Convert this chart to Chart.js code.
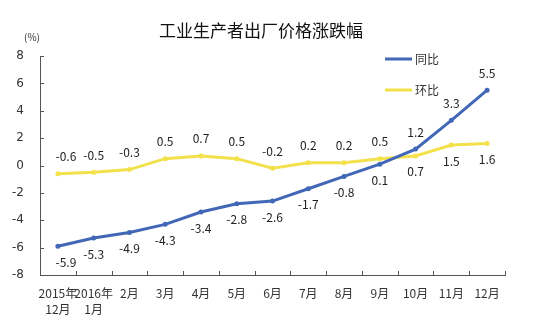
<!DOCTYPE html>
<html lang="zh-CN">
<head>
  <meta charset="UTF-8">
  <title>工业生产者出厂价格涨跌幅</title>
  <script src="https://cdn.jsdelivr.net/npm/chart.js"></script>
  <style>
    html, body { margin: 0; padding: 0; background: #fff; }
    #wrap { width: 534px; height: 329px; }
  </style>
</head>
<body>
  <div id="wrap"><canvas id="ppiChart" width="534" height="329"></canvas></div>

  <script>
    const months = [["2015年", "12月"], ["2016年", "1月"], "2月", "3月", "4月", "5月", "6月", "7月", "8月", "9月", "10月", "11月", "12月"];
    const yoy = [-5.9, -5.3, -4.9, -4.3, -3.4, -2.8, -2.6, -1.7, -0.8, 0.1, 1.2, 3.3, 5.5];
    const mom = [-0.6, -0.5, -0.3, 0.5, 0.7, 0.5, -0.2, 0.2, 0.2, 0.5, 0.7, 1.5, 1.6];
    // label above (true) / below (false) the point
    const yoyAbove = [false, false, false, false, false, false, false, false, false, false, true, true, true];
    const momAbove = [true, true, true, true, true, true, true, true, true, true, false, false, false];

    const BLUE = "#4267b6";
    const YELLOW = "#f3e14c";
    const CJK = '"Noto Sans CJK SC", sans-serif';

    // title, unit, legend, point labels, inward tick marks
    const extras = {
      id: "extras",
      afterDatasetsDraw(chart) {
        const ctx = chart.ctx;
        const area = chart.chartArea;
        const xs = chart.scales.x, ys = chart.scales.y;
        ctx.save();

        // tick marks pointing inside
        ctx.strokeStyle = "#555";
        ctx.lineWidth = 1;
        ys.ticks.forEach(t => {
          const y = Math.round(ys.getPixelForValue(t.value)) + 0.5;
          ctx.beginPath(); ctx.moveTo(area.left, y); ctx.lineTo(area.left + 4, y); ctx.stroke();
        });
        for (let i = 0; i < months.length; i++) {
          const x = i < months.length - 1
            ? (xs.getPixelForValue(i) + xs.getPixelForValue(i + 1)) / 2
            : area.right;
          const px = Math.round(x) + 0.5;
          ctx.beginPath(); ctx.moveTo(px, area.bottom); ctx.lineTo(px, area.bottom - 4); ctx.stroke();
        }

        // data labels
        ctx.font = '12px ' + CJK;
        ctx.fillStyle = "#222";
        ctx.textAlign = "center";
        ctx.textBaseline = "middle";
        const drawLabels = (idx, values, above) => {
          chart.getDatasetMeta(idx).data.forEach((pt, i) => {
            let x = pt.x;
            if (i === 0) x += 8;
            const y = above[i] ? pt.y - 17 : pt.y + 16;
            ctx.fillText(values[i].toFixed(1), x, y);
          });
        };
        drawLabels(0, yoy, yoyAbove);
        drawLabels(1, mom, momAbove);

        // title
        ctx.font = '17px ' + CJK;
        ctx.fillStyle = "#111";
        ctx.fillText("工业生产者出厂价格涨跌幅", 261, 31);

        // unit
        ctx.font = '10px ' + CJK;
        ctx.fillStyle = "#333";
        ctx.fillText("(%)", 32, 37);

        // legend
        const legend = [["同比", BLUE, 59], ["环比", YELLOW, 90]];
        ctx.textAlign = "left";
        ctx.font = '12px ' + CJK;
        legend.forEach(([name, color, y]) => {
          ctx.strokeStyle = color;
          ctx.lineWidth = 3;
          ctx.beginPath(); ctx.moveTo(385, y); ctx.lineTo(412, y); ctx.stroke();
          ctx.fillStyle = "#333";
          ctx.fillText(name, 415, y);
        });

        ctx.restore();
      }
    };

    new Chart(document.getElementById("ppiChart"), {
      type: "line",
      data: {
        labels: months,
        datasets: [
          {
            label: "同比",
            data: yoy,
            borderColor: BLUE,
            backgroundColor: BLUE,
            borderWidth: 3,
            pointRadius: 1,
            tension: 0
          },
          {
            label: "环比",
            data: mom,
            borderColor: YELLOW,
            backgroundColor: YELLOW,
            borderWidth: 3,
            pointRadius: 1,
            tension: 0
          }
        ]
      },
      options: {
        responsive: false,
        animation: false,
        layout: { padding: { top: 56, right: 29, left: 0, bottom: 0 } },
        plugins: {
          legend: { display: false },
          title: { display: false },
          tooltip: { enabled: false }
        },
        scales: {
          x: {
            offset: true,
            grid: { display: false },
            border: { display: true, color: "#555", width: 1 },
            ticks: {
              color: "#333",
              font: { family: CJK, size: 12, lineHeight: 1.35 },
              maxRotation: 0,
              autoSkip: false,
              padding: 2
            },
            afterFit(scale) { scale.height = 54; }
          },
          y: {
            min: -8,
            max: 8,
            grid: { display: false },
            border: { display: true, color: "#555", width: 1 },
            ticks: {
              stepSize: 2,
              color: "#333",
              font: { family: '"DejaVu Sans", sans-serif', size: 12 },
              padding: 8
            },
            afterFit(scale) { scale.width = 40; }
          }
        }
      },
      plugins: [extras]
    });
  </script>
</body>
</html>
